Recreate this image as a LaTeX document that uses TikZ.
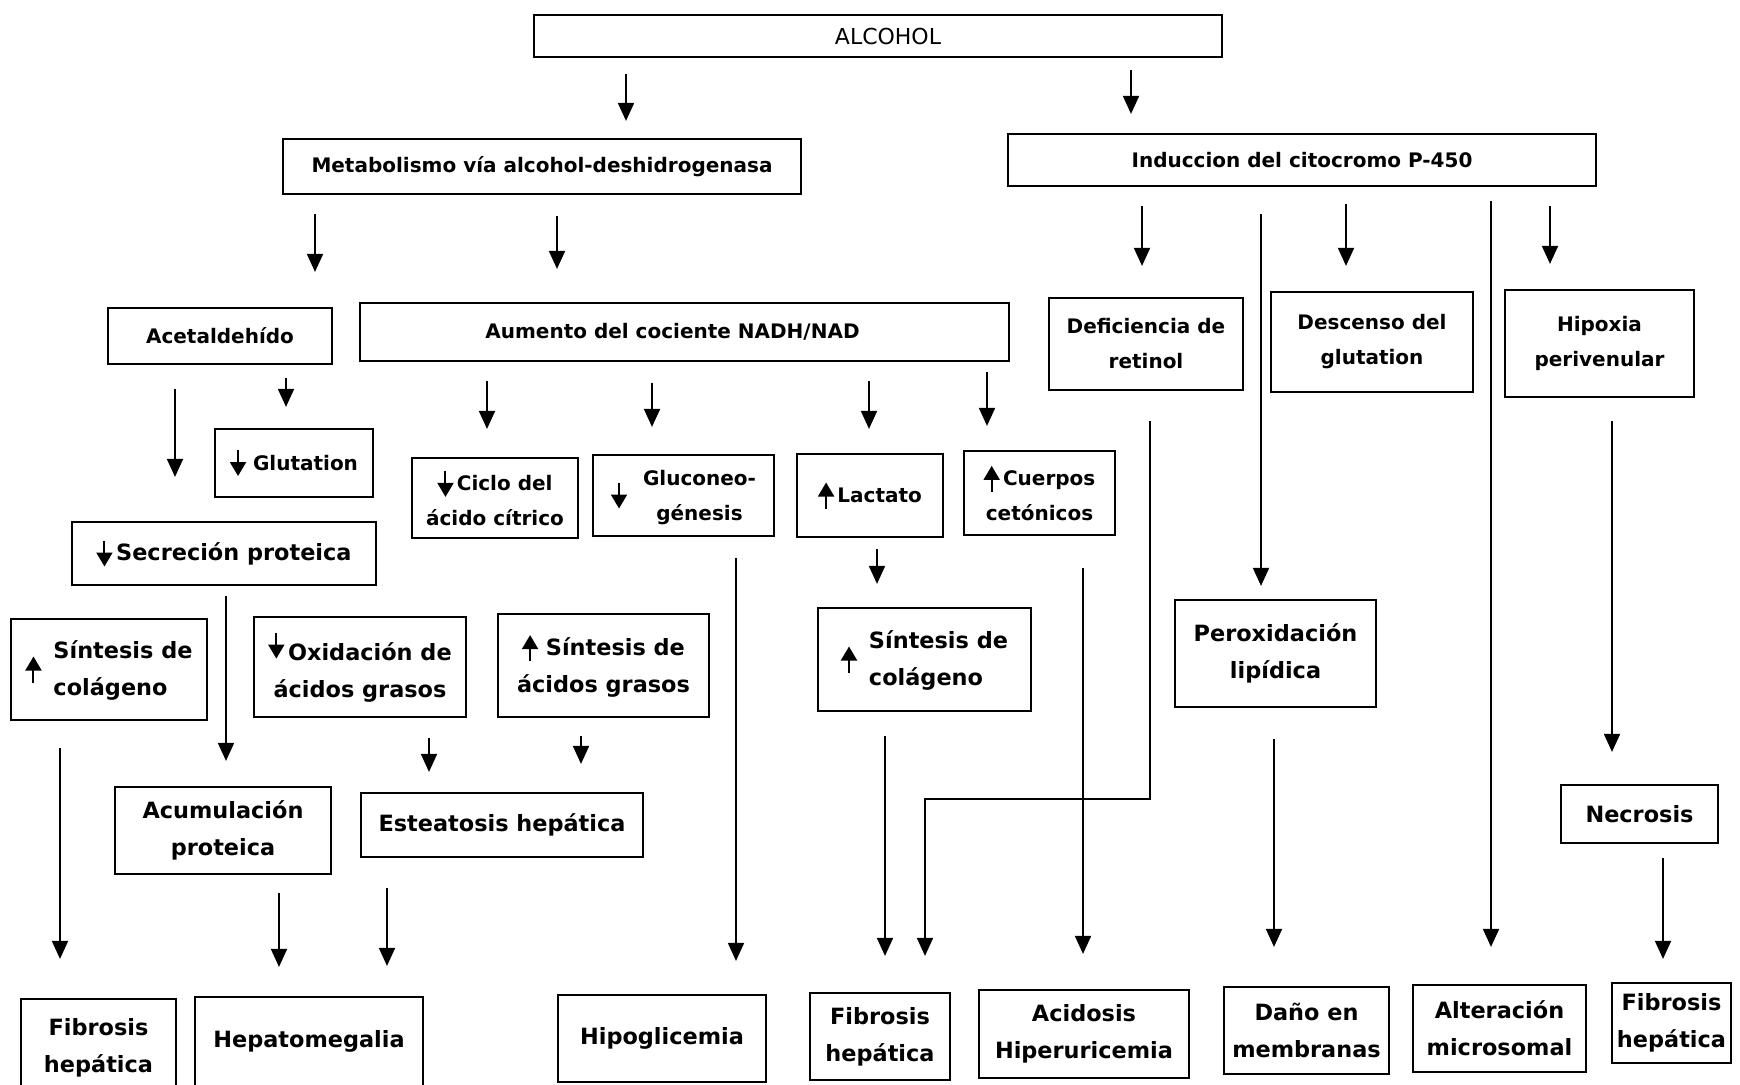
\documentclass[tikz,border=0pt]{standalone}
\usepackage{fontspec}
\setmainfont{DejaVu Sans}
\usetikzlibrary{arrows.meta}
\newcommand\dnar{\tikz[baseline=0pt,x=1pt,y=1pt]\draw[line width=1pt,-{Triangle[width=8pt,length=7pt]}] (0,10) -- (0,-3);}
\newcommand\upar{\tikz[baseline=0pt,x=1pt,y=1pt]\draw[line width=1pt,-{Triangle[width=8pt,length=7pt]}] (0,-3) -- (0,10);}
\begin{document}
\begin{tikzpicture}[x=0.5pt,y=-0.5pt,
  box/.style={draw, line width=1.1pt, inner sep=0pt, align=center, anchor=center, font=\bfseries\fontsize{11.2}{18.5}\selectfont},
  sbox/.style={box, font=\bfseries\fontsize{10}{17.5}\selectfont},
  wh/.style 2 args={minimum width=#1pt, minimum height=#2pt},
  arr/.style={line width=0.9pt, -{Triangle[width=8pt,length=9pt]}}]
\useasboundingbox (0,0) rectangle (1740,1084);
% top
\node[box, font=\fontsize{11}{13}\selectfont, wh={344}{21}] (alc) at (878,36) {\hspace*{10pt}ALCOHOL};
\node[sbox, wh={259}{27.5}] (met) at (542,166.5) {Metabolismo vía alcohol-deshidrogenasa};
\node[sbox, wh={294}{26}] (ind) at (1302,160) {Induccion del citocromo P-450};
% second row
\node[sbox, wh={112}{28}] (acet) at (220,336) {Acetaldehído};
\node[sbox, wh={324.5}{29}] (aum) at (684.5,332) {Aumento del cociente NADH/NAD\hspace*{12pt}};
\node[sbox, wh={97}{46}] (def) at (1146,344) {Deficiencia de\\retinol};
\node[sbox, wh={101}{50}] (desc) at (1372,342) {Descenso del\\glutation};
\node[sbox, wh={94.5}{53.5}] (hip) at (1599.5,343.5) {Hipoxia\\perivenular};
% third row
\node[sbox, wh={79}{34}] (glut) at (294,463) {\dnar\ Glutation};
\node[sbox, wh={83}{40}] (ciclo) at (495,498) {\dnar\,Ciclo del\\ácido cítrico};
\node[sbox, wh={90.5}{40.5}] (gluc) at (683.5,495.5) {$\vcenter{\hbox{\dnar}}$\hspace{8pt}\begin{tabular}{@{}c@{}}Gluconeo-\\génesis\end{tabular}};
\node[sbox, wh={73}{41.5}] (lact) at (870,495.5) {\upar\,Lactato};
\node[sbox, wh={75.5}{42}] (cuer) at (1039.5,493) {\upar\,Cuerpos\\cetónicos};
\node[box, wh={152}{31.5}] (sec) at (224,553.5) {\dnar\,Secreción proteica};
% fourth row
\node[box, wh={98}{50.5}] (sincolA) at (109,669.5) {$\vcenter{\hbox{\upar}}$\hspace{6pt}\begin{tabular}{@{}l@{}}Síntesis de\\colágeno\end{tabular}};
\node[box, wh={106}{50}] (oxid) at (360,667) {\raisebox{4pt}{\dnar}\,Oxidación de\\ácidos grasos};
\node[box, wh={105.5}{51.5}] (sinac) at (603.5,665.5) {\upar\ Síntesis de\\ácidos grasos};
\node[box, wh={106.5}{51.5}] (sincolB) at (924.5,659.5) {$\vcenter{\hbox{\upar}}$\hspace{6pt}\begin{tabular}{@{}l@{}}Síntesis de\\colágeno\end{tabular}};
\node[box, wh={100.5}{53.5}] (perox) at (1275.5,653.5) {Peroxidación\\lipídica};
% fifth row
\node[box, wh={108}{43.5}] (acum) at (223,830.5) {Acumulación\\proteica};
\node[box, wh={141}{32}] (est) at (502,825) {Esteatosis hepática};
\node[box, wh={78.5}{29}] (necr) at (1639.5,814) {Necrosis};
% bottom row
\node[box, wh={77.5}{48.5}] (fibA) at (98.5,1047.5) {Fibrosis\\hepática};
\node[box, wh={114}{44.5}] (hepat) at (309,1041.5) {Hepatomegalia};
\node[box, wh={104}{43.5}] (hipog) at (662,1038.5) {Hipoglicemia};
\node[box, wh={70}{43.5}] (fibB) at (880,1036.5) {Fibrosis\\hepática};
\node[box, wh={105}{44}] (acid) at (1084,1034) {Acidosis\\Hiperuricemia};
\node[box, wh={82.5}{43.5}] (dano) at (1306.5,1030.5) {Daño en\\membranas};
\node[box, wh={86.5}{43.5}] (alter) at (1499.5,1028.5) {Alteración\\microsomal};
\node[box, wh={59.5}{40}] (fibC) at (1671.5,1023) {Fibrosis\\hepática};
% connectors
\draw[arr,shorten <=8pt,shorten >=8.5pt] (alc.south -| 626,0) -- (met.north -| 626,0);
\draw[arr,shorten <=6pt,shorten >=9.5pt] (alc.south -| 1131,0) -- (ind.north -| 1131,0);
\draw[arr,shorten <=9.5pt,shorten >=17.5pt] (met.south -| 315,0) -- (acet.north -| 315,0);
\draw[arr,shorten <=10.5pt,shorten >=16.5pt] (met.south -| 557,0) -- (aum.north -| 557,0);
\draw[arr,shorten <=9.5pt,shorten >=15.5pt] (ind.south -| 1142,0) -- (def.north -| 1142,0);
\draw[arr,shorten <=13.5pt,shorten >=6.5pt] (ind.south -| 1261,0) -- (perox.north -| 1261,0);
\draw[arr,shorten <=8.5pt,shorten >=12.5pt] (ind.south -| 1346,0) -- (desc.north -| 1346,0);
\draw[arr,shorten <=7pt,shorten >=18.5pt] (ind.south -| 1491,0) -- (alter.north -| 1491,0);
\draw[arr,shorten <=9.5pt,shorten >=12.5pt] (ind.south -| 1550,0) -- (hip.north -| 1550,0);
\draw[arr,shorten <=12pt,shorten >=22pt] (acet.south -| 175,0) -- (sec.north -| 175,0);
\draw[arr,shorten <=6.5pt,shorten >=10.5pt] (acet.south -| 286,0) -- (glut.north -| 286,0);
\draw[arr,shorten <=9.5pt,shorten >=14pt] (aum.south -| 487,0) -- (ciclo.north -| 487,0);
\draw[arr,shorten <=10.5pt,shorten >=13.5pt] (aum.south -| 652,0) -- (gluc.north -| 652,0);
\draw[arr,shorten <=9.5pt,shorten >=12pt] (aum.south -| 869,0) -- (lact.north -| 869,0);
\draw[arr,shorten <=5pt,shorten >=12pt] (aum.south -| 987,0) -- (cuer.north -| 987,0);
\draw[arr,shorten <=5.5pt,shorten >=11.5pt] (lact.south -| 877,0) -- (sincolB.north -| 877,0);
\draw[arr,shorten <=5pt,shorten >=12.5pt] (sec.south -| 226,0) -- (acum.north -| 226,0);
\draw[arr,shorten <=13.5pt,shorten >=19.5pt] (sincolA.south -| 60,0) -- (fibA.north -| 60,0);
\draw[arr,shorten <=10pt,shorten >=10pt] (oxid.south -| 429,0) -- (est.north -| 429,0);
\draw[arr,shorten <=9pt,shorten >=14pt] (sinac.south -| 581,0) -- (est.north -| 581,0);
\draw[arr,shorten <=9pt,shorten >=14.5pt] (acum.south -| 279,0) -- (hepat.north -| 279,0);
\draw[arr,shorten <=15pt,shorten >=15pt] (est.south -| 387,0) -- (hepat.north -| 387,0);
\draw[arr,shorten <=10.5pt,shorten >=16.5pt] (gluc.south -| 736,0) -- (hipog.north -| 736,0);
\draw[arr,shorten <=12pt,shorten >=18pt] (sincolB.south -| 885,0) -- (fibB.north -| 885,0);
\coordinate (rb) at (925,799);
\draw[arr,shorten <=15pt,shorten >=18pt] (def.south -| 1150,0) |- (rb) -- (fibB.north -| rb);
\draw[arr,shorten <=16pt,shorten >=17.5pt] (cuer.south -| 1083,0) -- (acid.north -| 1083,0);
\draw[arr,shorten <=15.5pt,shorten >=19.5pt] (perox.south -| 1274,0) -- (dano.north -| 1274,0);
\draw[arr,shorten <=11.5pt,shorten >=16pt] (hip.south -| 1612,0) -- (necr.north -| 1612,0);
\draw[arr,shorten <=7pt,shorten >=11.5pt] (necr.south -| 1663,0) -- (fibC.north -| 1663,0);
\end{tikzpicture}
\end{document}
